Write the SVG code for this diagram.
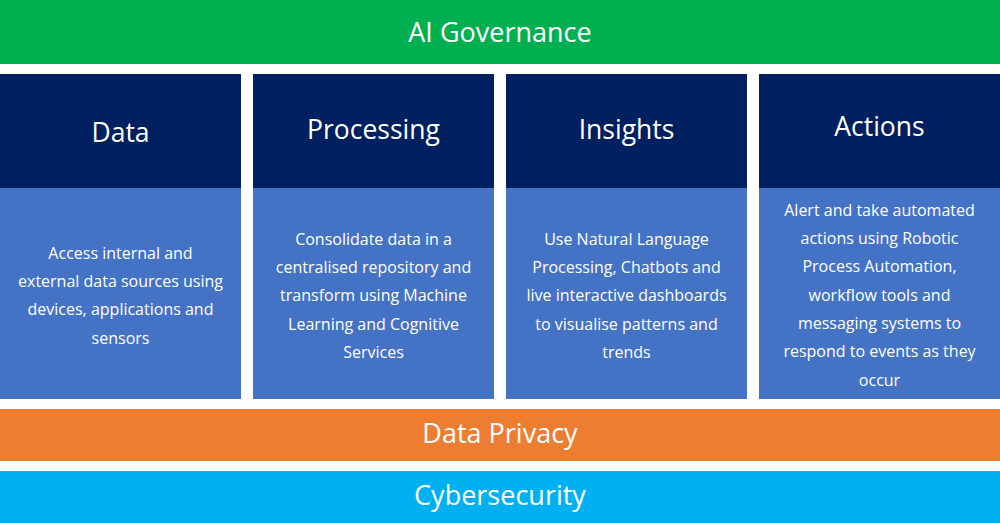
<svg xmlns="http://www.w3.org/2000/svg" width="1000" height="523" viewBox="0 0 1000 523">
<style>
.band{font-family:"Open Sans","Noto Sans",sans-serif;fill:#fff;text-anchor:middle;font-size:27px}
.hd{font-family:"Open Sans","Noto Sans",sans-serif;fill:#fff;text-anchor:middle;font-size:26.5px}
.bd{font-family:"Open Sans","Noto Sans",sans-serif;fill:#fff;text-anchor:middle;font-size:16px}
.head{fill:#002060}
.body{fill:#4472C4}
</style>
<rect width="1000" height="523" fill="#fff"/>
<g id="ai-governance">
<rect x="0" y="0" width="1000" height="64" fill="#00B050"/>
<text class="band" x="500" y="42">AI Governance</text>
</g>
<g id="data">
<rect class="head" x="0" y="74" width="241" height="114"/>
<rect class="body" x="0" y="188" width="241" height="211"/>
<text class="hd" x="120.5" y="142">Data</text>
<text class="bd" x="120.5"><tspan x="120.5" y="259">Access internal and</tspan><tspan x="120.5" y="287">external data sources using</tspan><tspan x="120.5" y="315">devices, applications and</tspan><tspan x="120.5" y="344">sensors</tspan></text>
</g>
<g id="processing">
<rect class="head" x="253" y="74" width="241" height="114"/>
<rect class="body" x="253" y="188" width="241" height="211"/>
<text class="hd" x="373.5" y="139">Processing</text>
<text class="bd"><tspan x="373.5" y="245">Consolidate data in a</tspan><tspan x="373.5" y="273">centralised repository and</tspan><tspan x="373.5" y="301">transform using Machine</tspan><tspan x="373.5" y="330">Learning and Cognitive</tspan><tspan x="373.5" y="358">Services</tspan></text>
</g>
<g id="insights">
<rect class="head" x="506" y="74" width="241" height="114"/>
<rect class="body" x="506" y="188" width="241" height="211"/>
<text class="hd" x="626.5" y="139">Insights</text>
<text class="bd"><tspan x="626.5" y="245">Use Natural Language</tspan><tspan x="626.5" y="273">Processing, Chatbots and</tspan><tspan x="626.5" y="301">live interactive dashboards</tspan><tspan x="626.5" y="330">to visualise patterns and</tspan><tspan x="626.5" y="358">trends</tspan></text>
</g>
<g id="actions">
<rect class="head" x="759" y="74" width="241" height="114"/>
<rect class="body" x="759" y="188" width="241" height="211"/>
<text class="hd" x="879.5" y="136">Actions</text>
<text class="bd"><tspan x="879.5" y="216">Alert and take automated</tspan><tspan x="879.5" y="244">actions using Robotic</tspan><tspan x="879.5" y="272">Process Automation,</tspan><tspan x="879.5" y="301">workflow tools and</tspan><tspan x="879.5" y="329">messaging systems to</tspan><tspan x="879.5" y="357">respond to events as they</tspan><tspan x="879.5" y="386">occur</tspan></text>
</g>
<g id="data-privacy">
<rect x="0" y="409" width="1000" height="52" fill="#ED7D31"/>
<text class="band" x="500" y="443">Data Privacy</text>
</g>
<g id="cybersecurity">
<rect x="0" y="471" width="1000" height="52" fill="#00B0F0"/>
<text class="band" x="500" y="505">Cybersecurity</text>
</g>
<g id="connectors"></g>
</svg>
